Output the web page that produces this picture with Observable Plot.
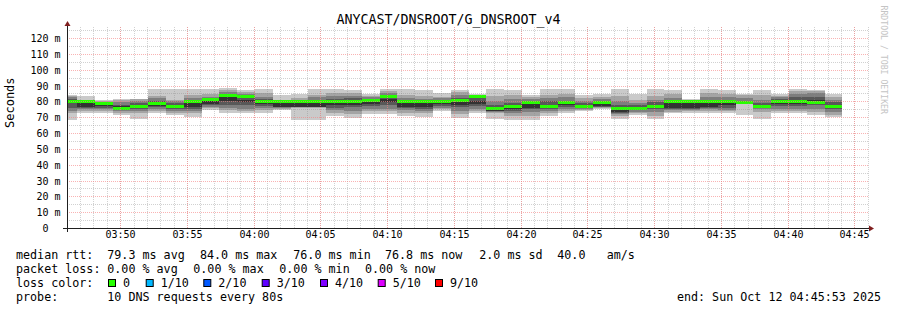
<!DOCTYPE html>
<html><head><meta charset="utf-8">
<script src="https://cdn.jsdelivr.net/npm/d3@7"></script>
<script src="https://cdn.jsdelivr.net/npm/@observablehq/plot@0.6"></script>
<style>
html,body{margin:0;padding:0;background:#fff;}
#wrap{position:relative;width:897px;height:310px;overflow:hidden;background:#fff;}
#wrap svg{position:absolute;left:0;top:0;}
</style></head><body><div id="wrap"></div>
<script>
// ---- data ----
const binEdges = ["03:45:26","03:46:46","03:48:06","03:49:26","03:50:46","03:52:06","03:53:26","03:54:46","03:56:06","03:57:26","03:58:46","04:00:06","04:01:26","04:02:46","04:04:06","04:05:26","04:06:46","04:08:06","04:09:26","04:10:46","04:12:06","04:13:26","04:14:46","04:16:06","04:17:26","04:18:46","04:20:06","04:21:26","04:22:46","04:24:06","04:25:26","04:26:46","04:28:06","04:29:26","04:30:46","04:32:06","04:33:26","04:34:46","04:36:06","04:37:26","04:38:46","04:40:06","04:41:26","04:42:46","04:44:06"];
const medianRtt = [80.2,80.2,79.2,76.1,77.3,79.1,77.2,80.2,81.2,84.0,83.4,80.3,80.3,80.3,80.3,80.3,80.3,81.1,83.4,80.3,80.3,80.3,81.1,83.4,76.0,77.3,79.3,77.3,79.3,77.2,79.3,76.0,76.0,77.2,80.3,80.3,80.3,80.3,79.3,77.2,80.3,80.3,79.3,76.8];
const pings = [
[68.5,72.6,74.0,76.0,79.5,80.5,81.5,82.5,83.5,84.2],
[72.6,73.8,75.2,75.8,76.4,79.4,79.8,80.2,80.6,83.6],
[72.5,73.8,75.0,76.0,77.0,78.0,79.0,79.8,80.2,80.6],
[71.2,72.6,74.0,75.0,75.8,76.8,78.0,79.5,80.6,81.2],
[68.8,72.6,74.0,75.5,76.8,78.0,79.0,80.5,81.2,81.5],
[72.6,73.7,75.0,76.4,76.8,78.5,80.0,82.0,83.6,87.8],
[71.6,72.6,74.0,75.5,76.5,77.8,79.0,80.5,81.1,87.8],
[70.3,72.6,74.0,75.5,76.4,79.4,80.2,82.0,84.2,87.8],
[74.7,75.8,76.5,77.5,78.5,80.5,81.5,83.0,84.8,87.8],
[72.6,74.5,75.8,78.0,80.0,83.5,84.5,86.0,87.0,88.2],
[72.6,74.0,75.5,77.5,79.5,81.0,82.5,84.5,86.0,87.4],
[72.6,74.5,75.8,77.0,78.5,80.0,81.5,83.0,85.0,87.6],
[74.7,75.2,75.8,76.2,76.4,79.4,80.0,80.5,81.0,84.2],
[68.0,76.0,76.2,76.3,76.4,79.4,80.2,81.0,82.0,84.8],
[68.4,76.0,76.2,76.3,76.4,79.4,80.6,82.5,84.2,87.8],
[70.9,72.6,74.5,76.0,78.0,80.0,81.5,83.5,85.5,87.8],
[69.5,72.0,74.0,76.4,78.0,80.5,82.0,83.6,85.5,87.0],
[72.2,74.0,75.5,77.0,78.5,80.0,81.5,82.5,83.5,84.8],
[72.2,74.0,75.5,77.5,79.5,81.5,83.0,85.0,86.5,87.8],
[70.9,72.6,74.5,75.8,76.4,79.4,80.4,82.0,84.2,87.8],
[70.1,72.6,74.0,75.5,76.4,79.4,80.4,81.5,83.5,87.4],
[73.7,75.0,76.0,77.0,78.5,80.0,81.0,82.0,83.0,85.0],
[69.5,72.0,74.0,76.4,78.0,80.5,82.0,84.0,85.8,87.4],
[72.6,74.0,75.5,77.0,78.5,80.5,82.0,83.0,83.8,84.4],
[68.8,72.6,73.2,73.7,74.2,76.0,78.0,80.5,83.5,88.0],
[68.4,70.5,72.6,74.0,75.0,77.0,79.0,81.5,84.0,87.4],
[68.4,71.0,73.0,75.0,76.0,78.5,80.0,81.5,83.0,84.2],
[71.0,72.6,74.0,75.5,76.5,78.0,80.0,82.0,84.0,88.0],
[72.6,74.0,75.5,76.5,77.5,79.0,80.5,82.5,84.5,88.0],
[73.7,74.5,75.5,76.5,77.0,78.0,79.0,80.5,82.0,84.2],
[75.5,75.8,76.2,76.5,76.8,79.0,80.0,81.5,83.0,84.6],
[68.8,70.5,72.0,72.6,73.0,76.0,78.0,80.5,83.5,88.0],
[71.6,72.6,73.5,74.5,75.2,76.5,77.5,79.0,81.0,84.6],
[68.8,71.0,73.0,75.0,76.3,78.0,79.5,81.0,83.5,88.0],
[72.6,73.5,74.5,75.2,75.8,79.4,80.5,82.0,84.5,87.0],
[72.6,73.8,74.8,75.5,75.8,79.4,80.2,80.6,81.0,81.5],
[72.6,74.0,75.5,76.0,76.4,79.4,80.5,83.0,85.5,88.0],
[72.6,73.7,74.5,76.0,77.5,79.5,81.0,83.0,84.5,87.4],
[71.4,78.8,79.0,79.2,79.3,79.5,80.5,82.0,84.0,84.8],
[68.8,73.0,75.0,76.0,76.8,77.5,79.0,81.0,84.0,87.4],
[72.6,74.0,75.5,77.0,78.5,80.0,81.5,82.5,83.5,84.6],
[72.6,74.0,75.5,77.0,78.5,80.5,82.5,84.5,86.5,88.0],
[71.4,73.0,75.5,77.5,79.0,81.0,83.0,85.0,86.5,87.4],
[70.1,71.5,73.0,75.0,76.5,78.0,79.5,81.0,83.0,84.6]
];
const yTicks = [0,10,20,30,40,50,60,70,80,90,100,110,120];
const xTickLabels = ["03:50","03:55","04:00","04:05","04:10","04:15","04:20","04:25","04:30","04:35","04:40","04:45"];
const lossColors = ["#26ff00","#00b8ff","#0059ff","#5e00ff","#7e00ff","#dd00ff","#ff0000"];
const lossLabels = ["0","1/10","2/10","3/10","4/10","5/10","9/10"];
const titleText = "ANYCAST/DNSROOT/G_DNSROOT_v4";
const statsLine1 = [["median rtt:",16],["79.3 ms avg",107.3],["84.0 ms max",200],["76.0 ms min",293.3],["76.8 ms now",385],["2.0 ms sd",479.3],["40.0",557.3],["am/s",606.7]];
const statsLine2 = [["packet loss:",16],["0.00 % avg",107.3],["0.00 % max",193.3],["0.00 % min",279.3],["0.00 % now",365]];
const probeText = "10 DNS requests every 80s";
const endText = "end: Sun Oct 12 04:45:53 2025";

// ---- build ----
const parse = s => new Date(`2025-10-12T${s}Z`);
const xStart = parse("03:46:01"), xEnd = parse("04:46:01");
const yMax = 127;
const bins = medianRtt.map((m, i) => ({x1: parse(binEdges[i]), x2: parse(binEdges[i + 1]), median: m, p: pings[i]}));
const grays = ["#cacaca","#a4a4a4","#7e7e7e","#585858","#323232"];
const bands = [];
for (let k = 0; k < 5; k++) for (const b of bins) bands.push({x1: b.x1, x2: b.x2, y1: b.p[k], y2: b.p[9 - k], k});
const minorX = d3.utcMinute.range(parse("03:47:00"), xEnd);
const majorX = xTickLabels.map(s => parse(s + ":00"));
const minorY = d3.range(5, yMax, 10);
const majorY = yTicks.filter(d => d > 0);
const gridColor = "rgb(140,140,140)", mgridColor = "rgb(245,128,128)";
const axisColor = "rgb(31,31,31)", arrowColor = "rgb(128,31,31)";
const mono = "DejaVu Sans Mono";

function axesMark(index, scales) {
  const {x, y} = scales;
  const x0 = x(xStart), x1 = x(xEnd), y0 = y(0), yT = y(yMax);
  const g = d3.create("svg:g");
  g.append("line").attr("x1", x0 - 4).attr("x2", x1 + 1).attr("y1", y0 + 0.5).attr("y2", y0 + 0.5).attr("stroke", axisColor);
  g.append("line").attr("x1", x0 + 0.5).attr("x2", x0 + 0.5).attr("y1", y0 + 4).attr("y2", yT - 1).attr("stroke", axisColor);
  g.append("path").attr("d", `M${x1 + 6},${y0 + 0.5}L${x1 + 1},${y0 - 2.5}L${x1 + 1},${y0 + 3.5}Z`).attr("fill", arrowColor);
  g.append("path").attr("d", `M${x0 + 0.5},${yT - 6}L${x0 - 2.5},${yT - 1}L${x0 + 3.5},${yT - 1}Z`).attr("fill", arrowColor);
  return g.node();
}

const chart = Plot.plot({
  width: 897, height: 245,
  marginLeft: 67, marginRight: 29, marginTop: 27, marginBottom: 17,
  style: {background: "#fff", overflow: "visible"},
  x: {type: "utc", domain: [xStart, xEnd], axis: null, round: true},
  y: {domain: [0, yMax], axis: null, round: true},
  marks: [
    Plot.rect(bands, {x1: "x1", x2: "x2", y1: "y1", y2: "y2", fill: d => grays[d.k], clip: true}),
    Plot.ruleY(bins, {y: "median", x1: "x1", x2: "x2", stroke: lossColors[0], strokeWidth: 3, clip: true}),
    Plot.ruleX(minorX, {stroke: gridColor, strokeOpacity: 0.4, strokeDasharray: "1,1"}),
    Plot.ruleY(minorY, {stroke: gridColor, strokeOpacity: 0.4, strokeDasharray: "1,1"}),
    Plot.ruleX(majorX, {stroke: mgridColor, strokeOpacity: 0.6, strokeDasharray: "1,1"}),
    Plot.ruleY(majorY, {stroke: mgridColor, strokeOpacity: 0.6, strokeDasharray: "1,1"}),
    axesMark,
    Plot.text(yTicks, {y: d => d, text: d => d === 0 ? "0\u00a0\u00a0" : d + "\u00a0m", frameAnchor: "left", textAnchor: "end", dx: -7, fontFamily: mono, fontSize: 10, fill: "#000"}),
    Plot.text(majorX, {x: d => d, text: (d, i) => xTickLabels[i], frameAnchor: "bottom", dy: 9.5, fontFamily: mono, fontSize: 10, fill: "#000"}),
    Plot.text(["Seconds"], {frameAnchor: "left", dx: -57, rotate: -90, fontFamily: mono, fontSize: 12, fill: "#000"}),
    Plot.text(["RRDTOOL / TOBI OETIKER"], {frameAnchor: "top-right", dx: 18, dy: -22, rotate: 90, textAnchor: "start", fontFamily: mono, fontSize: 8.2, fill: "#c4c4c4"})
  ]
});
const wrap = document.getElementById("wrap");
wrap.appendChild(chart);

// ---- text overlay (title + legend) ----
const ov = d3.select(wrap).append("svg").attr("width", 897).attr("height", 310)
  .style("pointer-events", "none").attr("font-family", mono).attr("fill", "#000");
ov.append("text").attr("x", 448.5).attr("y", 24).attr("text-anchor", "middle").attr("font-size", 13.3).text(titleText);
const fs = 11.7;
const line = (items, y) => items.forEach(([t, x]) => ov.append("text").attr("x", x).attr("y", y).attr("font-size", fs).attr("xml:space", "preserve").text(t));
line(statsLine1, 259);
line(statsLine2, 273);
line([["loss color:", 16]], 287);
const sqX = [108, 145.7, 203.3, 261.7, 320, 377.7, 435];
lossLabels.forEach((lab, i) => {
  ov.append("rect").attr("x", sqX[i] + 0.5).attr("y", 279.5).attr("width", 7).attr("height", 7).attr("fill", lossColors[i]).attr("stroke", "#000").attr("stroke-width", 1);
  ov.append("text").attr("x", sqX[i] + 15).attr("y", 287).attr("font-size", fs).text(lab);
});
line([["probe:", 16], [probeText, 107.3]], 301);
ov.append("text").attr("x", 881).attr("y", 301).attr("text-anchor", "end").attr("font-size", fs).text(endText);
</script></body></html>
